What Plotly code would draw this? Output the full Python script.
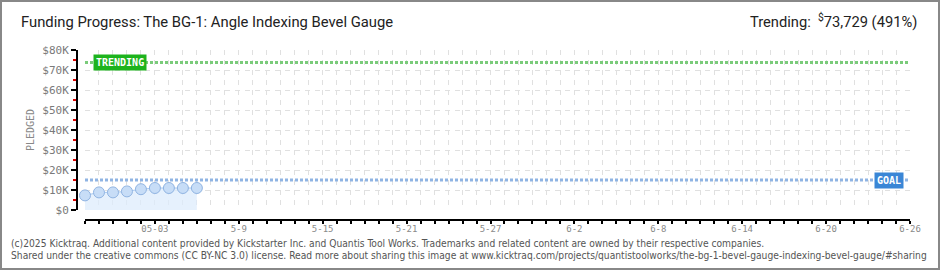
import plotly.graph_objects as go

# ---- data ----
dates = ["2025-04-28", "2025-04-29", "2025-04-30", "2025-05-01", "2025-05-02",
         "2025-05-03", "2025-05-04", "2025-05-05", "2025-05-06"]
pledged = [7300, 8800, 8800, 9300, 10400, 11000, 11000, 11000, 11000]
goal = 15000
trending = 73729
tick_dates = ["2025-05-03", "2025-05-09", "2025-05-15", "2025-05-21", "2025-05-27",
              "2025-06-02", "2025-06-08", "2025-06-14", "2025-06-20", "2025-06-26"]
tick_text = ["05-03", "5-9", "5-15", "5-21", "5-27", "6-2", "6-8", "6-14", "6-20", "6-26"]
x_start, x_end = "2025-04-28", "2025-06-26"
y_vals = [0, 10000, 20000, 30000, 40000, 50000, 60000, 70000, 80000]
y_text = ["$0", "$10K", "$20K", "$30K", "$40K", "$50K", "$60K", "$70K", "$80K"]

W, H = 940, 270
ML, MR, MT, MB = 77, 30, 50, 50
PW, PH = W - ML - MR, H - MT - MB


def px(x):
    return (x - ML) / PW


def py(y):
    return (H - MB - y) / PH


mono = "DejaVu Sans Mono"
grid_col = "#e0e0e0"

fig = go.Figure()

# goal & trending lines
for val, col in [(goal, "#8fb4e3"), (trending, "#7acb7a")]:
    fig.add_trace(go.Scatter(x=[x_start, x_end], y=[val, val], mode="lines",
                             line=dict(color=col, width=3, dash="3px,2px"),
                             hoverinfo="skip", showlegend=False))

fig.add_trace(go.Scatter(
    x=dates, y=pledged, mode="lines+markers", fill="tozeroy",
    fillcolor="rgba(222,236,252,0.75)", cliponaxis=False,
    line=dict(color="#a9c9ef", width=1),
    marker=dict(size=11, color="#c7ddf7", line=dict(color="#90b4e2", width=1)),
    showlegend=False))

fig.update_layout(
    width=W, height=H, margin=dict(l=ML, r=MR, t=MT, b=MB),
    paper_bgcolor="white", plot_bgcolor="white",
    xaxis=dict(type="date", domain=[px(85), 1], anchor="free", position=0,
               range=[x_start, x_end], tickmode="array", tickvals=tick_dates,
               ticktext=tick_text, showline=True, linecolor="black", linewidth=2,
               ticks="outside", ticklen=3, tickcolor="black", tickwidth=2,
               ticklabelstandoff=-3,
               tickfont=dict(family=mono, size=9, color="#8a8a8a"),
               showgrid=True, gridcolor=grid_col, griddash="5px,5px", gridwidth=1,
               minor=dict(dtick=86400000, tick0=x_start, ticks="outside", ticklen=3,
                          tickcolor="black", tickwidth=2, showgrid=True,
                          gridcolor=grid_col, griddash="5px,5px", gridwidth=1),
               zeroline=False, fixedrange=True),
    yaxis=dict(domain=[py(210), 1], anchor="free", position=0,
               range=[0, 80000], tickmode="array", tickvals=y_vals, ticktext=y_text,
               showline=True, linecolor="black", linewidth=2,
               ticks="outside", ticklen=5, tickcolor="black", tickwidth=2,
               tickfont=dict(family=mono, size=11, color="#7a7a7a"),
               showgrid=True, gridcolor=grid_col, griddash="5px,5px", gridwidth=1,
               minor=dict(dtick=5000, tick0=0, ticks="outside", ticklen=3,
                          tickcolor="#e00000", tickwidth=2, showgrid=False),
               zeroline=False, fixedrange=True),
)

ann = []
ann.append(dict(text="Funding Progress: The BG-1: Angle Indexing Bevel Gauge",
                xref="paper", yref="paper", x=px(19), y=py(22), xanchor="left",
                yanchor="middle", showarrow=False,
                font=dict(family="Roboto, sans-serif", size=14.8, color="#222")))
ann.append(dict(text="Trending:  <sup>$</sup>73,729 (491%)",
                xref="paper", yref="paper", x=px(919), y=py(21), xanchor="right",
                yanchor="middle", showarrow=False,
                font=dict(family="Roboto, sans-serif", size=14.7, color="#222")))
ann.append(dict(text="PLEDGED", xref="paper", yref="paper", x=px(30), y=py(130),
                textangle=-90, showarrow=False, xanchor="center", yanchor="middle",
                font=dict(family=mono, size=10, color="#888")))
ann.append(dict(text="<b>TRENDING</b>", xref="paper", yref="y", x=px(93), y=trending,
                xanchor="left", yanchor="middle", showarrow=False, bgcolor="#1db31d",
                borderpad=2, font=dict(family=mono, size=10, color="white")))
ann.append(dict(text="<b>GOAL</b>", xref="paper", yref="y", x=px(904), y=goal,
                xanchor="right", yanchor="middle", showarrow=False, bgcolor="#3a86d6",
                borderpad=2, font=dict(family=mono, size=10, color="white")))
foot1 = ("(c)2025 Kicktraq. Additional content provided by Kickstarter Inc. and Quantis Tool Works. "
         "Trademarks and related content are owned by their respective companies.")
foot2 = ("Shared under the creative commons (CC BY-NC 3.0) license. Read more about sharing this image at "
         "www.kicktraq.com/projects/quantistoolworks/the-bg-1-bevel-gauge-indexing-bevel-gauge/#sharing")
for t, yy in [(foot1, 243), (foot2, 256)]:
    ann.append(dict(text=t, xref="paper", yref="paper", x=px(9), y=py(yy), xanchor="left",
                    yanchor="middle", showarrow=False,
                    font=dict(family="DejaVu Sans Condensed, DejaVu Sans", size=10.2, color="#555")))
fig.update_layout(annotations=ann)

# outer border
fig.add_shape(type="rect", xref="paper", yref="paper", x0=px(1), x1=px(939), y0=py(269), y1=py(1),
              line=dict(color="#888", width=2), fillcolor="rgba(0,0,0,0)", layer="above")

fig.write_html("out.html")
